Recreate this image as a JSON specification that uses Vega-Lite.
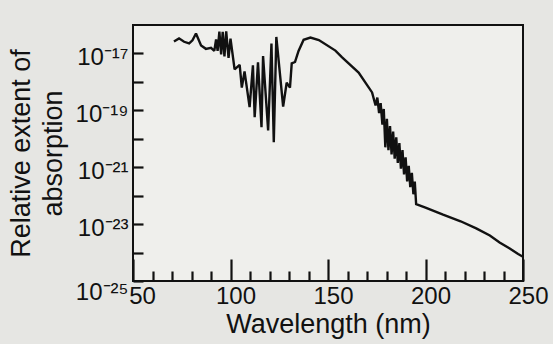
{
  "$schema": "https://vega.github.io/schema/vega-lite/v6.json",
  "width": 390,
  "height": 256,
  "autosize": "none",
  "padding": {"left": 133, "top": 25, "right": 30, "bottom": 63},
  "background": "#e6e6e3",
  "config": {
    "view": {"stroke": "#111111", "strokeWidth": 2, "fill": "#efefec"},
    "font": "Liberation Sans",
    "axis": {"grid": false, "domain": false, "tickColor": "#111111", "tickWidth": 2.2, "labelColor": "#111111", "titleColor": "#111111", "labelFont": "Liberation Sans", "titleFont": "Liberation Sans", "titleFontWeight": "normal"}
  },
  "data": {"values": [
    {"wavelength": 71.0, "absorption": 2.63e-17},
    {"wavelength": 73.6, "absorption": 3.39e-17},
    {"wavelength": 76.2, "absorption": 2.57e-17},
    {"wavelength": 78.8, "absorption": 2.24e-17},
    {"wavelength": 80.5, "absorption": 2.88e-17},
    {"wavelength": 82.3, "absorption": 5.01e-17},
    {"wavelength": 84.9, "absorption": 1.91e-17},
    {"wavelength": 87.4, "absorption": 1.45e-17},
    {"wavelength": 90.0, "absorption": 1.58e-17},
    {"wavelength": 91.7, "absorption": 1.23e-17},
    {"wavelength": 92.6, "absorption": 3.09e-17},
    {"wavelength": 93.4, "absorption": 1.23e-17},
    {"wavelength": 94.3, "absorption": 5.89e-17},
    {"wavelength": 95.2, "absorption": 9.33e-18},
    {"wavelength": 96.0, "absorption": 5.75e-17},
    {"wavelength": 96.9, "absorption": 7.94e-18},
    {"wavelength": 97.8, "absorption": 6.03e-17},
    {"wavelength": 99.0, "absorption": 6.92e-18},
    {"wavelength": 100.0, "absorption": 3.31e-17},
    {"wavelength": 102.1, "absorption": 2.75e-18},
    {"wavelength": 104.7, "absorption": 3.98e-18},
    {"wavelength": 105.8, "absorption": 6.31e-19},
    {"wavelength": 107.2, "absorption": 2.34e-18},
    {"wavelength": 109.8, "absorption": 1.29e-19},
    {"wavelength": 111.5, "absorption": 3.80e-18},
    {"wavelength": 112.4, "absorption": 5.75e-20},
    {"wavelength": 114.1, "absorption": 4.90e-18},
    {"wavelength": 115.9, "absorption": 2.57e-20},
    {"wavelength": 116.7, "absorption": 8.13e-18},
    {"wavelength": 119.3, "absorption": 1.95e-20},
    {"wavelength": 121.0, "absorption": 2.24e-17},
    {"wavelength": 122.2, "absorption": 7.59e-21},
    {"wavelength": 123.5, "absorption": 3.80e-17},
    {"wavelength": 127.0, "absorption": 1.35e-19},
    {"wavelength": 128.8, "absorption": 9.33e-19},
    {"wavelength": 130.5, "absorption": 6.31e-19},
    {"wavelength": 131.4, "absorption": 4.47e-18},
    {"wavelength": 133.1, "absorption": 5.01e-18},
    {"wavelength": 134.9, "absorption": 1.23e-17},
    {"wavelength": 137.5, "absorption": 3.02e-17},
    {"wavelength": 141.0, "absorption": 3.63e-17},
    {"wavelength": 145.3, "absorption": 2.95e-17},
    {"wavelength": 153.8, "absorption": 1.26e-17},
    {"wavelength": 157.1, "absorption": 7.41e-18},
    {"wavelength": 165.7, "absorption": 2.14e-18},
    {"wavelength": 172.6, "absorption": 4.27e-19},
    {"wavelength": 174.4, "absorption": 1.48e-19},
    {"wavelength": 175.3, "absorption": 2.82e-19},
    {"wavelength": 176.2, "absorption": 7.94e-20},
    {"wavelength": 177.0, "absorption": 1.78e-19},
    {"wavelength": 177.9, "absorption": 3.16e-20},
    {"wavelength": 178.6, "absorption": 1.12e-19},
    {"wavelength": 179.4, "absorption": 5.01e-21},
    {"wavelength": 180.2, "absorption": 5.01e-20},
    {"wavelength": 181.0, "absorption": 3.98e-21},
    {"wavelength": 181.8, "absorption": 2.82e-20},
    {"wavelength": 182.6, "absorption": 2.82e-21},
    {"wavelength": 183.4, "absorption": 1.78e-20},
    {"wavelength": 184.2, "absorption": 2.00e-21},
    {"wavelength": 185.0, "absorption": 1.12e-20},
    {"wavelength": 185.8, "absorption": 1.41e-21},
    {"wavelength": 186.6, "absorption": 7.08e-21},
    {"wavelength": 187.4, "absorption": 8.91e-22},
    {"wavelength": 188.2, "absorption": 3.98e-21},
    {"wavelength": 189.0, "absorption": 5.62e-22},
    {"wavelength": 189.8, "absorption": 2.24e-21},
    {"wavelength": 190.6, "absorption": 3.16e-22},
    {"wavelength": 191.4, "absorption": 1.12e-21},
    {"wavelength": 192.2, "absorption": 2.00e-22},
    {"wavelength": 193.0, "absorption": 6.31e-22},
    {"wavelength": 193.8, "absorption": 1.12e-22},
    {"wavelength": 194.5, "absorption": 3.16e-22},
    {"wavelength": 195.2, "absorption": 5.01e-23},
    {"wavelength": 200.0, "absorption": 3.80e-23},
    {"wavelength": 209.0, "absorption": 2.14e-23},
    {"wavelength": 218.0, "absorption": 1.26e-23},
    {"wavelength": 226.0, "absorption": 7.08e-24},
    {"wavelength": 233.0, "absorption": 3.98e-24},
    {"wavelength": 238.0, "absorption": 2.24e-24},
    {"wavelength": 243.0, "absorption": 1.41e-24},
    {"wavelength": 247.5, "absorption": 8.91e-25},
    {"wavelength": 250.0, "absorption": 7.08e-25}
  ]},
  "layer": [
    {
      "mark": {"type": "line", "color": "#111111", "strokeWidth": 2.4, "strokeJoin": "miter", "strokeMiterLimit": 2, "clip": true},
      "encoding": {
        "x": {"field": "wavelength", "type": "quantitative", "scale": {"domain": [50, 250], "nice": false, "zero": false},
          "axis": {"orient": "bottom", "values": [60, 70, 80, 90, 110, 120, 130, 140, 160, 170, 180, 190, 210, 220, 230, 240], "tickSize": -10, "labels": false, "title": null}},
        "y": {"field": "absorption", "type": "quantitative", "scale": {"type": "log", "domain": [1e-25, 1e-16], "nice": false},
          "axis": {"values": [1e-25, 1e-24, 1e-23, 1e-22, 1e-21, 1e-20, 1e-19, 1e-18, 1e-17], "tickSize": -10, "labelFontSize": 24, "labelPadding": 15, "labelOverlap": false, "labelFlush": false, "labelBaseline": "middle",
            "labelOffset": {"condition": {"test": "datum.value < 5e-25", "value": 11}, "value": 4},
            "labelExpr": "round(log(datum.value)/LN10) == -17 ? '10⁻¹⁷' : round(log(datum.value)/LN10) == -19 ? '10⁻¹⁹' : round(log(datum.value)/LN10) == -21 ? '10⁻²¹' : round(log(datum.value)/LN10) == -23 ? '10⁻²³' : round(log(datum.value)/LN10) == -25 ? '10⁻²⁵' : ''",
            "title": ["Relative extent of", "absorption"], "titleFontSize": 27, "titleLineHeight": 32, "titlePadding": 8}}
      }
    },
    {
      "mark": {"type": "line", "strokeOpacity": 0},
      "encoding": {
        "x": {"field": "wavelength", "type": "quantitative",
          "axis": {"orient": "bottom", "values": [50, 100, 150, 200, 250], "tickSize": -22, "labelFontSize": 24, "labelPadding": 25, "labelFlush": false, "labelOverlap": false, "labelBaseline": "top",
            "labelOffset": {"condition": {"test": "datum.value == 50", "value": 9}, "value": 5},
            "title": "Wavelength (nm)", "titleFontSize": 27, "titlePadding": 3}},
        "y": {"field": "absorption", "type": "quantitative"}
      }
    }
  ],
  "resolve": {"axis": {"x": "independent"}}
}
